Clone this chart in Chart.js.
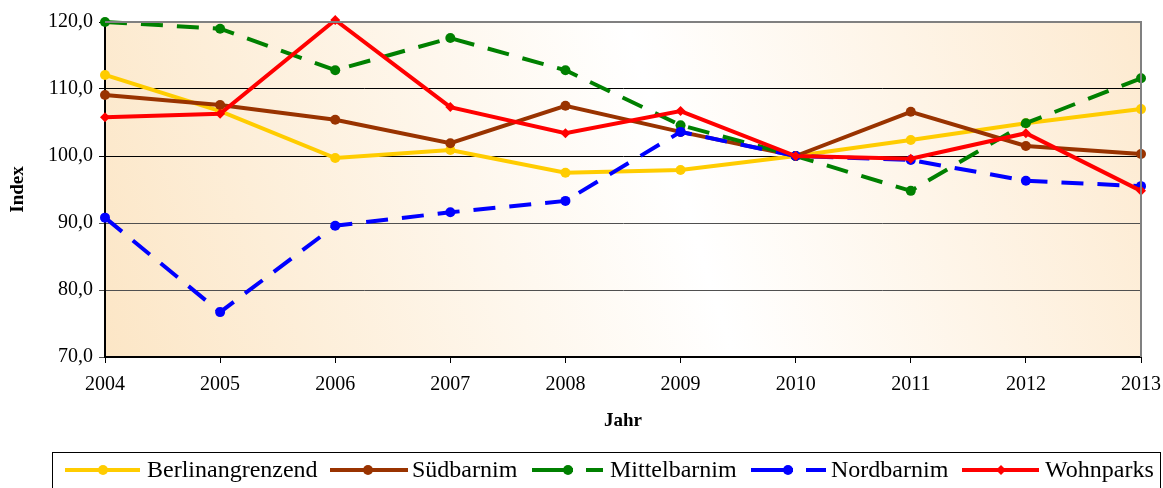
<!DOCTYPE html>
<html><head><meta charset="utf-8">
<script src="https://cdn.jsdelivr.net/npm/chart.js@4/dist/chart.umd.min.js"></script>
<style>html,body{margin:0;padding:0;background:#fff}#wrap{width:1163px;height:488px}</style>
</head><body><div id="wrap"><canvas id="c" width="1163" height="488"></canvas></div>
<script>
const years = ['2004','2005','2006','2007','2008','2009','2010','2011','2012','2013'];
const berlinangrenzend = [112.1,106.7,99.7,100.9,97.5,97.9,100.0,102.4,104.9,107.0];
const suedbarnim      = [109.1,107.6,105.4,101.9,107.5,103.6,100.0,106.6,101.5,100.3];
const mittelbarnim    = [120.0,119.0,112.8,117.6,112.8,104.6,100.0,94.8,104.9,111.6];
const nordbarnim      = [90.8,76.7,89.6,91.6,93.3,103.6,100.0,99.4,96.3,95.5];
const wohnparks       = [105.8,106.3,120.3,107.3,103.4,106.7,100.0,99.6,103.4,94.8];
const seriesNames = ['Berlinangrenzend','Südbarnim','Mittelbarnim','Nordbarnim','Wohnparks'];
const yTicks = [70,80,90,100,110,120];

const colors = ['#FFCC00','#993300','#008000','#0000FF','#FF0000'];
const dashes = [[],[],[22,14],[22,14],[]];
const styles = ['circle','circle','circle','circle','rectRot'];
const dataArr = [berlinangrenzend,suedbarnim,mittelbarnim,nordbarnim,wohnparks];
const FONT = "'Liberation Serif', 'Times New Roman', serif";
// legend sample geometry: [lineStart, lineEnd, markerX, textX]
const legendGeom = [[65,140,103,147],[330,408,368,412],[532,603,568,610],[751,826,788,831],[962,1039,1001,1045]];

const datasets = dataArr.map((d,i)=>({
  label: seriesNames[i], data: d,
  borderColor: colors[i], backgroundColor: colors[i],
  borderWidth: 4, borderDash: dashes[i],
  pointStyle: styles[i], pointRadius: 5, pointBorderWidth: 0,
  pointBackgroundColor: colors[i], tension: 0, clip: false,
  order: 5 - i
}));

const bgPlugin = {
  id: 'bg',
  beforeDraw(chart){
    const {ctx, chartArea:a} = chart;
    const g = ctx.createLinearGradient(a.left, a.bottom, a.right, a.top);
    g.addColorStop(0, '#FCE6C6');
    g.addColorStop(0.55, '#FFFFFF');
    g.addColorStop(1, '#FDEAD0');
    ctx.save(); ctx.fillStyle = g;
    ctx.fillRect(a.left, a.top, a.right-a.left, a.bottom-a.top);
    ctx.restore();
  },
  afterDraw(chart){
    const {ctx, chartArea:a} = chart;
    ctx.save();
    ctx.strokeStyle = '#808080'; ctx.lineWidth = 2;
    ctx.beginPath(); ctx.moveTo(a.left, a.top); ctx.lineTo(a.right, a.top); ctx.lineTo(a.right, a.bottom); ctx.stroke();
    const top = 452, bot = 492;
    ctx.strokeStyle = '#000'; ctx.lineWidth = 1;
    ctx.strokeRect(52.5, top+0.5, 1108, bot-top);
    ctx.font = '24px ' + FONT; ctx.textBaseline = 'middle';
    const cy = 470;
    for (let i=0;i<seriesNames.length;i++){
      const [x0,x1,mx,tx] = legendGeom[i];
      ctx.strokeStyle = colors[i]; ctx.fillStyle = colors[i]; ctx.lineWidth = 4;
      if (dashes[i].length){
        ctx.beginPath(); ctx.moveTo(x0, cy); ctx.lineTo(mx+5, cy); ctx.stroke();
        ctx.beginPath(); ctx.moveTo(mx+18, cy); ctx.lineTo(x1, cy); ctx.stroke();
        ctx.beginPath(); ctx.arc(mx, cy, 5, 0, Math.PI*2); ctx.fill();
      } else {
        ctx.beginPath(); ctx.moveTo(x0, cy); ctx.lineTo(x1, cy); ctx.stroke();
        if (styles[i]==='rectRot'){
          ctx.beginPath(); ctx.moveTo(mx, cy-5); ctx.lineTo(mx+5, cy); ctx.lineTo(mx, cy+5); ctx.lineTo(mx-5, cy); ctx.closePath(); ctx.fill();
        } else { ctx.beginPath(); ctx.arc(mx, cy, 5, 0, Math.PI*2); ctx.fill(); }
      }
      ctx.fillStyle = '#000';
      ctx.fillText(seriesNames[i], tx, cy+1);
    }
    ctx.restore();
  }
};

new Chart(document.getElementById('c'), {
  type: 'line',
  data: { labels: years, datasets },
  plugins: [bgPlugin],
  options: {
    responsive: false, animation: false, devicePixelRatio: 1,
    layout: { padding: { top: 22, right: 22, bottom: 56, left: 0 } },
    plugins: { legend: { display: false }, tooltip: { enabled: false } },
    scales: {
      x: {
        offset: false,
        grid: { display: true, drawOnChartArea: false, drawTicks: true, tickLength: 6, color: '#000', lineWidth: 1 },
        border: { display: true, color: '#000', width: 2 },
        ticks: { color: '#000', font: { family: FONT, size: 20 }, padding: 10, maxRotation: 0, autoSkip: false },
        title: { display: true, text: 'Jahr', color: '#000', font: { family: FONT, size: 19, weight: 'bold' }, padding: { top: 10, bottom: 0 } },
        afterFit(s){ s.height = 75; s.paddingRight = 0; }
      },
      y: {
        min: 70, max: 120,
        afterBuildTicks(s){ s.ticks = yTicks.map(v=>({value:v})); },
        grid: { color: (c)=> c.tick && c.tick.value>=100 ? '#000' : '#505050', lineWidth: 1, drawTicks: true, tickLength: 6 },
        border: { display: true, color: '#000', width: 2 },
        ticks: { color: '#000', font: { family: FONT, size: 20 }, padding: 6,
          callback: (v)=> Number(v).toFixed(1).replace('.', ',') },
        title: { display: true, text: 'Index', color: '#000', font: { family: FONT, size: 19, weight: 'bold' }, padding: { top: 7, bottom: 0 } },
        afterFit(s){ s.width = 105; }
      }
    }
  }
});
</script></body></html>
